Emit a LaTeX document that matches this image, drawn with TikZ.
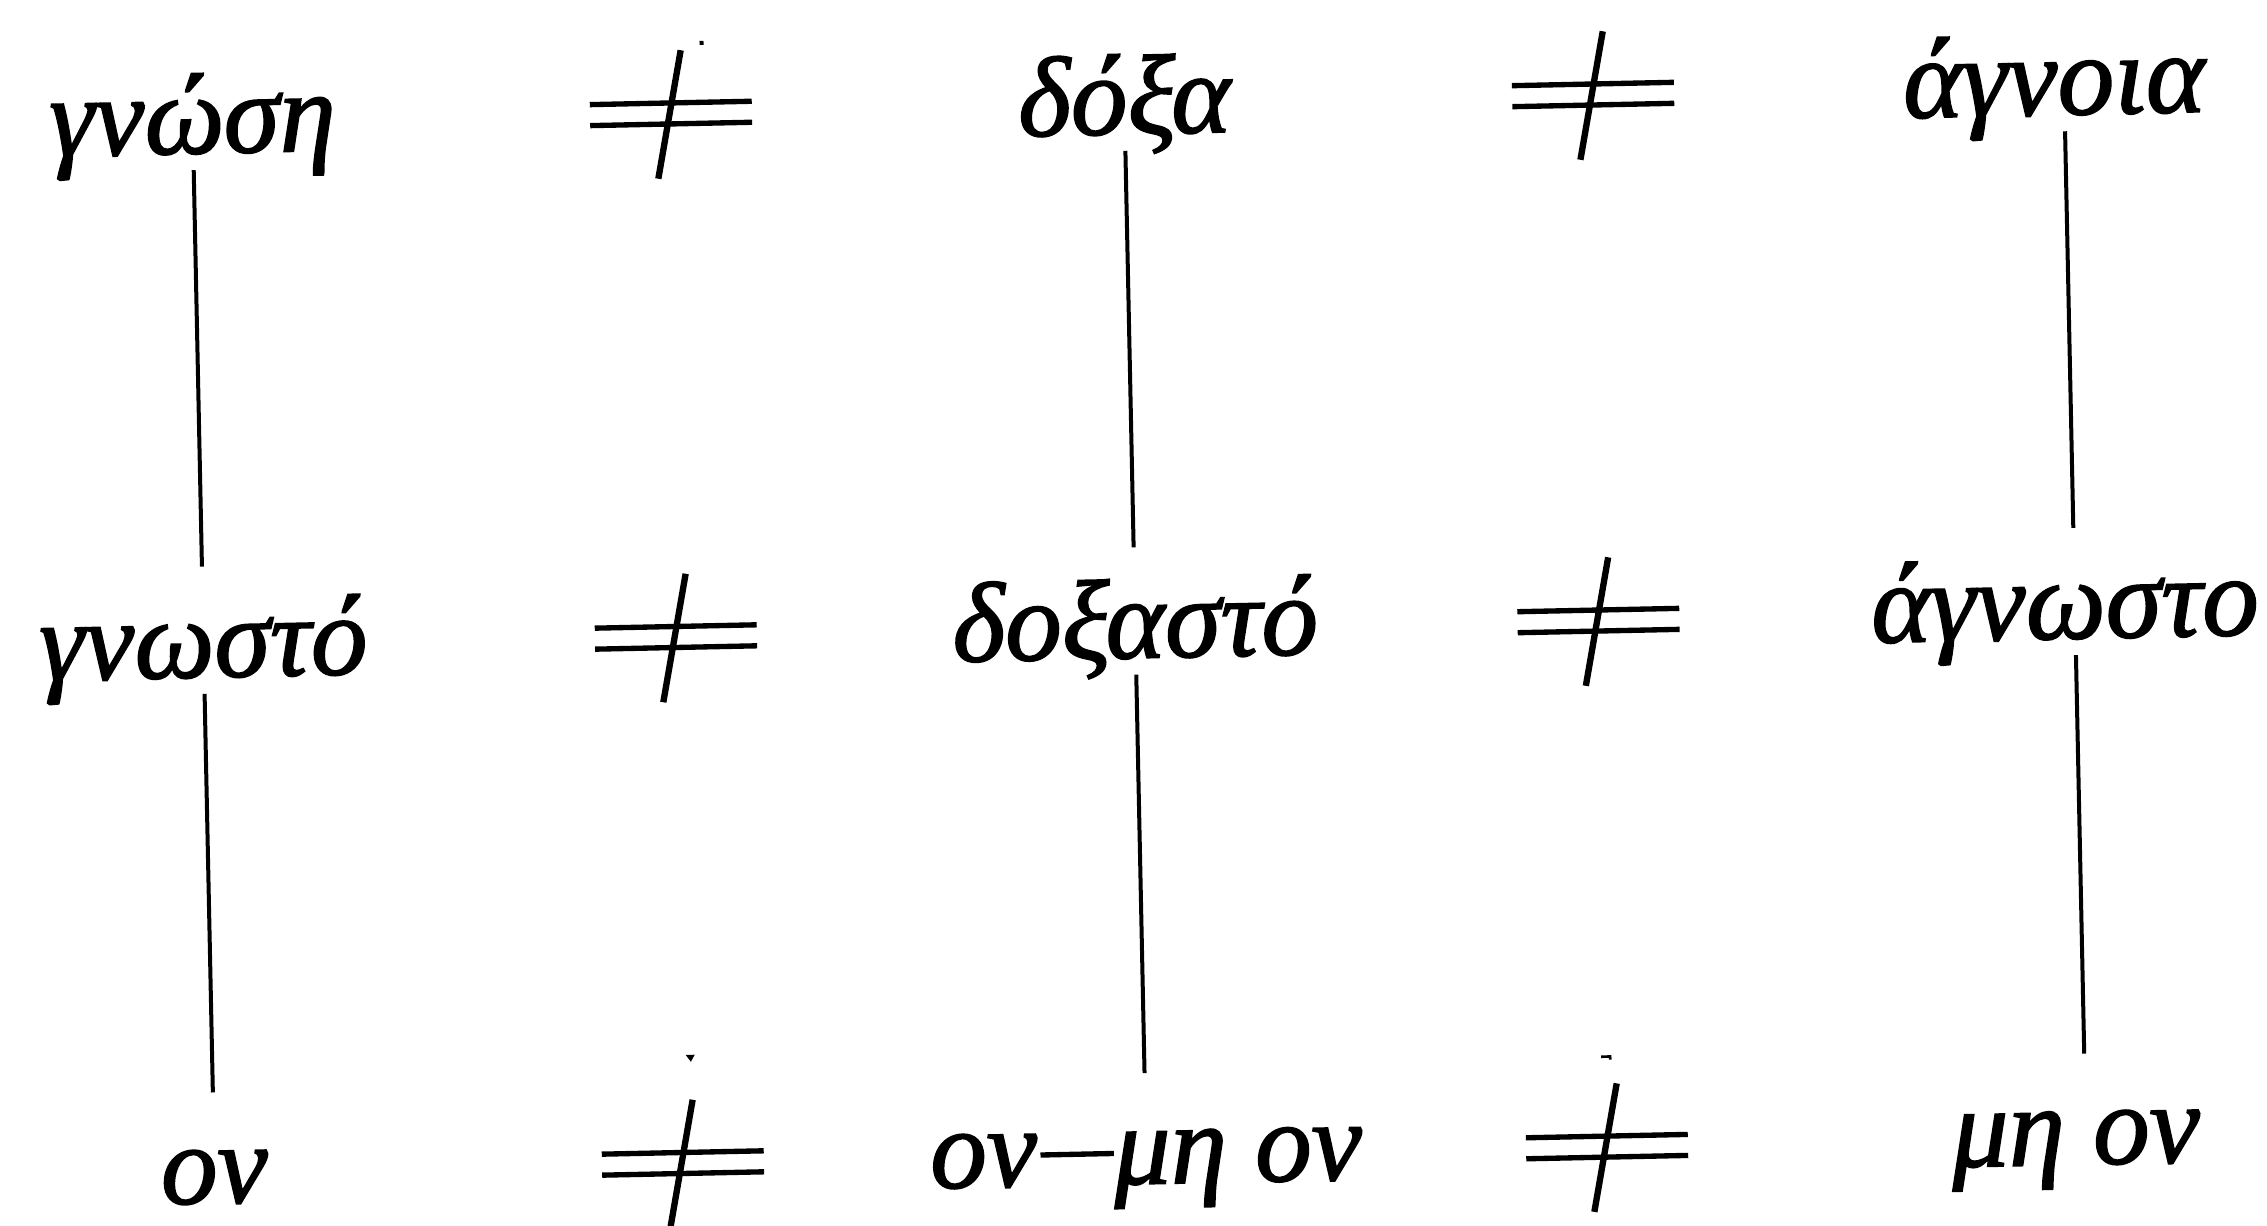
\documentclass[tikz,border=0pt]{standalone}
\usepackage{fontspec}
\setmainfont{Liberation Serif}
\newcommand{\shortdash}{\kern1pt\rule[8.5pt]{22pt}{1.6pt}}
\begin{document}
\begin{tikzpicture}[x=0.3pt,y=0.3pt,
  lbl/.style={anchor=base, inner sep=0pt, text height=33pt, text depth=4.8pt,
    font=\fontsize{34}{40}\selectfont\itshape\addfontfeatures{FakeBold=1.5}},
  conn/.style={line width=1.2pt},
  noteq/.pic={
    \draw[line width=1.6pt] (-81,10.5) -- (81,10.5) (-81,-10.5) -- (81,-10.5);
    \draw[line width=1.9pt] (-14,-65) -- (11,63);
  }]
\useasboundingbox (-1133,-613) rectangle (1134,613);
\begin{scope}[rotate=1.19, transform shape]
  % row 1
  \node[lbl] (g1) at (-930,479) {γνώση};
  \node[lbl] (d1) at (2,479) {δόξα};
  \node[lbl] (a1) at (932,479) {άγνοια};
  % row 2
  \node[lbl] (g2) at (-930,-45) {γνωστό};
  \node[lbl] (d2) at (2,-45) {δοξαστό};
  \node[lbl] (a2) at (932,-45) {άγνωστο};
  % row 3
  \node[lbl] (g3) at (-930,-571) {ον};
  \node[lbl] (d3) at (2,-571) {ον\shortdash μη ον};
  \node[lbl] (a3) at (932,-571) {μη ον};
  % vertical connectors
  \draw[conn] (g1.south) -- (g2.north);
  \draw[conn] (g2.south) -- (g3.north);
  \draw[conn] (d1.south) -- (d2.north);
  \draw[conn] (d2.south) -- (d3.north);
  \draw[conn] ([xshift=3pt]a1.south) -- ([xshift=3pt]a2.north);
  \draw[conn] ([xshift=3pt]a2.south) -- ([xshift=3pt]a3.north);
  % not-equal signs
  \coordinate (n1) at (-451.6,509.1);
  \coordinate (n2) at (470.8,508.9);
  \coordinate (n3) at (-457.5,-14.5);
  \coordinate (n4) at (465.3,-17.2);
  \coordinate (n5) at (-461.4,-540.6);
  \coordinate (n6) at (462.9,-543.4);
  \foreach \n in {n1,n2,n3,n4,n5,n6} { \pic at (\n) {noteq}; }
  % small specks
  \fill ([shift={(30,68)}]n1) rectangle +(4,4);
  \fill ([shift={(5,108)}]n5) -- +(9,0) -- +(5,-7) -- cycle;
  \draw[line width=0.8pt] ([shift={(-4,90)}]n6) -- +(9,0) -- +(9,-3);
\end{scope}
\end{tikzpicture}
\end{document}
